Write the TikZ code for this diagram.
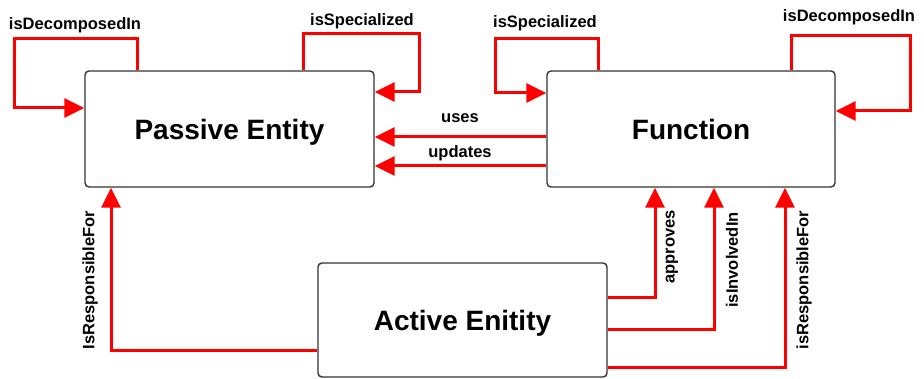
\documentclass[tikz,border=0pt]{standalone}
\usepackage{fontspec}
\setmainfont{Liberation Sans}
\usetikzlibrary{arrows.meta}
\begin{document}
\begin{tikzpicture}[x=1pt,y=1pt,
  box/.style={draw=black!80, line width=1.4pt, rounded corners=4pt, fill=white,
    font=\bfseries\fontsize{28}{32}\selectfont, inner sep=0pt, text depth=0pt},
  rel/.style={draw=red, line width=3pt, -{Triangle[length=20pt,width=19pt]}},
  lbl/.style={font=\bfseries\fontsize{16.5}{19}\selectfont, inner sep=0pt}]
\useasboundingbox (0,0) rectangle (924,378);
\node[box, minimum width=289pt, minimum height=116pt] (P) at (229.5,249) {Passive Entity};
\node[box, minimum width=288pt, minimum height=116pt] (F) at (691,249) {Function};
\node[box, minimum width=289pt, minimum height=114pt] (A) at (462.5,58) {Active Enitity};
% Passive loops
\draw[rel] (P.north -| 137,0) -- (137,339) -| (14,270) -- (P.west |- 0,270);
\node[lbl] (l1) at (75,353) {isDecomposedIn};
\draw[rel] (P.north -| 303,0) -- (303,344) -| (419,286) -- (P.east |- 0,286);
\node[lbl] (l2) at (362,357) {isSpecialized};
% uses / updates
\draw[rel] (F.west |- 0,241) -- (P.east |- 0,241);
\node[lbl] (l3) at (460,260) {uses};
\draw[rel] (F.west |- 0,212) -- (P.east |- 0,212);
\node[lbl] (l4) at (460,225) {updates};
% Function loops
\draw[rel] (F.north -| 598,0) -- (598,339) -| (495,285) -- (F.west |- 0,285);
\node[lbl] (l5) at (545,355) {isSpecialized};
\draw[rel] (F.north -| 791,0) -- (791,342) -| (910,267) -- (F.east |- 0,267);
\node[lbl] (l6) at (849,361) {isDecomposedIn};
% bottom
\draw[rel] (A.west |- 0,28) -| (P.south -| 111,0);
\node[lbl, rotate=90] (l7) at (90,98) {IsResponsibleFor};
\draw[rel] (A.east |- 0,81) -| (F.south -| 655,0);
\node[lbl, rotate=90] (l8) at (672,131) {approves};
\draw[rel] (A.east |- 0,49) -| (F.south -| 714,0);
\node[lbl, rotate=90] (l9) at (732,118) {isInvolvedIn};
\draw[rel] (A.east |- 0,11) -| (F.south -| 785,0);
\node[lbl, rotate=90] (l10) at (804,98) {isResponsibleFor};
\end{tikzpicture}
\end{document}
